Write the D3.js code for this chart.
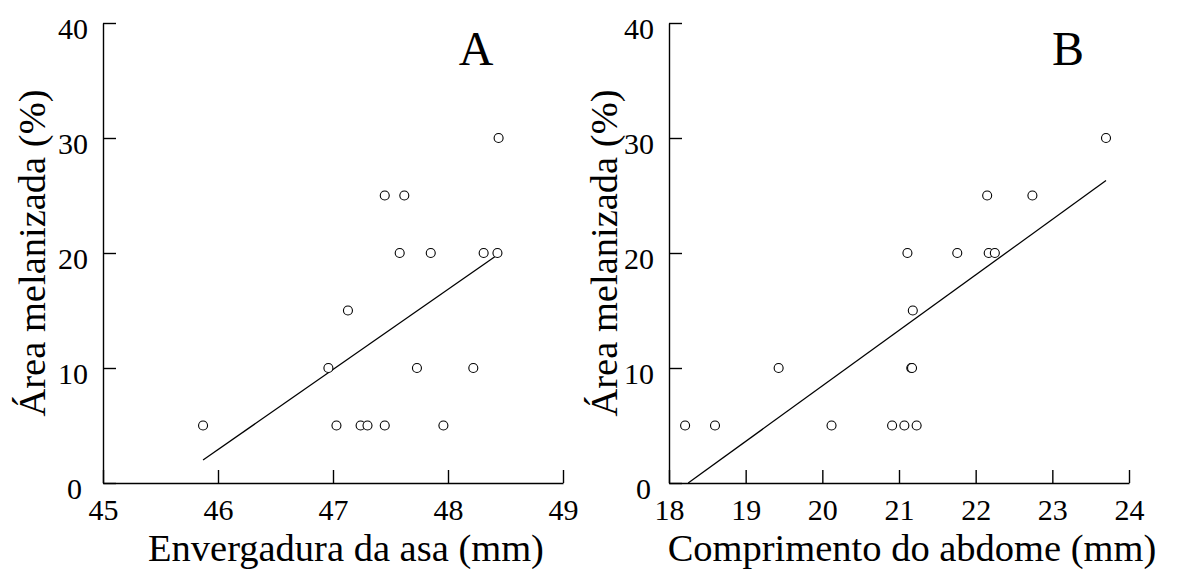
<!DOCTYPE html>
<html>
<head>
<meta charset="utf-8">
<script src="https://cdn.jsdelivr.net/npm/d3@7"></script>
<style>
  body { margin: 0; background: #fff; }
  svg text { font-family: "Liberation Serif", "Times New Roman", serif; fill: #000; }
</style>
</head>
<body>
<svg width="1192" height="569"></svg>
<script>
// panel A: wing span vs melanized area
var wingSpan = [45.87, 46.96, 47.03, 47.13, 47.24, 47.30, 47.45, 47.45, 47.58, 47.62, 47.73, 47.85, 47.96, 48.22, 48.31, 48.43, 48.44];
var melanA   = [5, 10, 5, 15, 5, 5, 25, 5, 20, 25, 10, 20, 5, 10, 20, 20, 30];
var fitA = [[45.87, 2.0], [48.41, 19.7]];

// panel B: abdomen length vs melanized area
var abdomen = [18.21, 18.60, 19.43, 20.12, 20.91, 21.07, 21.11, 21.16, 21.17, 21.18, 21.23, 21.76, 22.15, 22.17, 22.25, 22.74, 23.70];
var melanB  = [5, 5, 10, 5, 5, 5, 20, 10, 10, 15, 5, 20, 25, 20, 20, 25, 30];
var fitB = [[18.25, 0], [23.70, 26.3]];

var yTicks = [0, 10, 20, 30, 40];
var xTicksA = [45, 46, 47, 48, 49];
var xTicksB = [18, 19, 20, 21, 22, 23, 24];

var svg = d3.select("svg");
var top_ = 23, bottom = 483, plotW = 460;

function panel(opts) {
    var xScale = d3.scaleLinear().domain(opts.xDomain).range([opts.left, opts.left + plotW]);
    var yScale = d3.scaleLinear().domain([0, 40]).range([bottom, top_]);
    var g = svg.append("g");

    // y axis, ticks pointing inward
    var ya = g.append("g")
        .attr("transform", "translate(" + opts.left + ",0)")
        .call(d3.axisLeft(yScale).tickValues(yTicks).tickFormat(d3.format("d"))
            .tickSize(-13).tickSizeOuter(0).tickPadding(15));
    ya.selectAll("text").attr("dy", "0.5em").style("font-size", "30px");
    // the zero label sits a bit to the left, clear of the first x label
    ya.selectAll(".tick").filter(function(d) { return d === 0; })
        .select("text").attr("dx", opts.zeroDx);

    // x axis
    var xa = g.append("g")
        .attr("transform", "translate(0," + bottom + ")")
        .call(d3.axisBottom(xScale).tickValues(opts.xTicks).tickFormat(d3.format("d"))
            .tickSize(-13).tickSizeOuter(0).tickPadding(16));
    xa.selectAll("text").style("font-size", "30px");

    g.selectAll(".domain, .tick line").attr("stroke", "#000").attr("stroke-width", 1.4);

    // regression line
    g.append("line")
        .attr("x1", xScale(opts.fit[0][0])).attr("y1", yScale(opts.fit[0][1]))
        .attr("x2", xScale(opts.fit[1][0])).attr("y2", yScale(opts.fit[1][1]))
        .attr("stroke", "#000").attr("stroke-width", 1.3);

    // points
    g.append("g").selectAll("circle")
        .data(opts.xs).enter().append("circle")
        .attr("cx", function(d) { return xScale(d); })
        .attr("cy", function(d, i) { return yScale(opts.ys[i]); })
        .attr("r", 4.5)
        .attr("fill", "#fff")
        .attr("stroke", "#000")
        .attr("stroke-width", 1.1);

    // panel letter
    g.append("text")
        .attr("x", opts.letterX).attr("y", 65)
        .attr("text-anchor", "middle")
        .style("font-size", "48px")
        .text(opts.letter);

    // x label
    g.append("text")
        .attr("x", opts.left + plotW / 2 + 13).attr("y", 561)
        .attr("text-anchor", "middle")
        .style("font-size", "38.5px")
        .text(opts.xLabel);

    // y label
    g.append("text")
        .attr("transform", "translate(" + opts.yLabelX + "," + ((top_ + bottom) / 2) + ") rotate(-90)")
        .attr("text-anchor", "middle")
        .style("font-size", "38.5px")
        .text("Área melanizada (%)");
}

panel({ left: 103, xDomain: [45, 49], xTicks: xTicksA, xs: wingSpan, ys: melanA, fit: fitA, zeroDx: -6,
        letter: "A", letterX: 476, xLabel: "Envergadura da asa (mm)", yLabelX: 45 });
panel({ left: 669, xDomain: [18, 24], xTicks: xTicksB, xs: abdomen, ys: melanB, fit: fitB, zeroDx: -3,
        letter: "B", letterX: 1068, xLabel: "Comprimento do abdome (mm)", yLabelX: 617 });
</script>
</body>
</html>
